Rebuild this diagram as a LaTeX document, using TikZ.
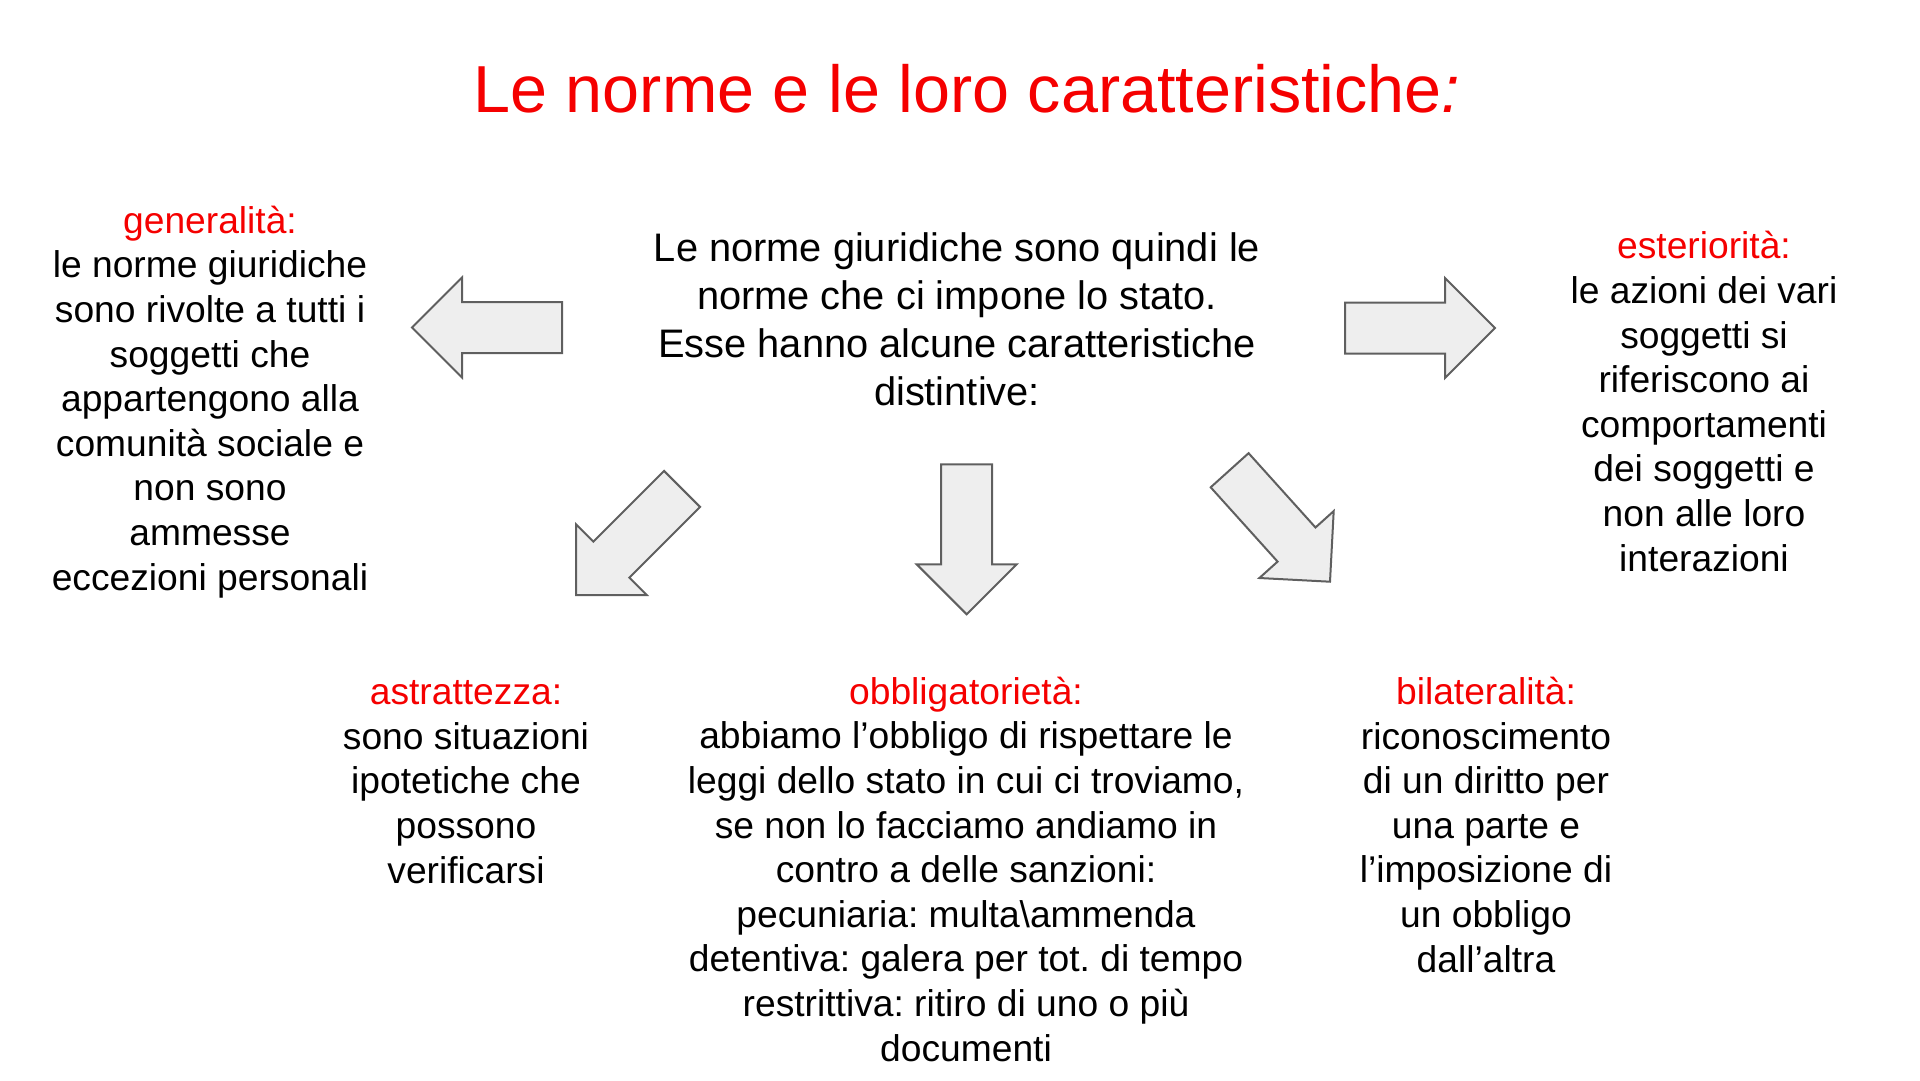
\documentclass[tikz,border=0pt]{standalone}
\usepackage{fontspec}
\setmainfont{Liberation Sans}
\usetikzlibrary{shapes.arrows}
\definecolor{normred}{RGB}{245,0,0}
\definecolor{arrowfill}{RGB}{238,238,238}
\definecolor{arrowline}{RGB}{95,95,95}
\frenchspacing

\begin{document}
\begin{tikzpicture}[x=1pt,y=-1pt,
    body/.style={align=center,inner sep=0pt,anchor=base,font=\fontsize{37.2}{44.6}\selectfont},
    bigarrow/.style={single arrow,draw=arrowline,fill=arrowfill,line width=2pt,
      minimum height=150pt,minimum width=98pt,single arrow head extend=24.5pt,
      inner xsep=0pt,inner ysep=24.5pt,outer sep=0pt,anchor=tip}]
  \useasboundingbox (0,0) rectangle (1920,1080);

  \node[inner sep=0pt,anchor=base,text=normred,font=\fontsize{66.5}{80}\selectfont] (T) at (967,112) {Le norme e le loro caratteristiche\textit{:}};
  \node[body,font=\fontsize{39.8}{48}\selectfont] (C) at (957,405) {Le norme giuridiche sono quindi le\\norme che ci impone lo stato.\\Esse hanno alcune caratteristiche\\distintive:};

  \node[body] (Gen) at (210,590) {\textcolor{normred}{generalità:}\\le norme giuridiche\\sono rivolte a tutti i\\soggetti che\\appartengono alla\\comunità sociale e\\non sono\\ammesse\\eccezioni personali};
  \node[body] (Est) at (1704,571) {\textcolor{normred}{esteriorità:}\\le azioni dei vari\\soggetti si\\riferiscono ai\\comportamenti\\dei soggetti e\\non alle loro\\interazioni};
  \node[body] (Ast) at (466,883) {\textcolor{normred}{astrattezza:}\\sono situazioni\\ipotetiche che\\possono\\verificarsi};
  \node[body] (Obb) at (966,1061) {\textcolor{normred}{obbligatorietà:}\\abbiamo l’obbligo di rispettare le\\leggi dello stato in cui ci troviamo,\\se non lo facciamo andiamo in\\contro a delle sanzioni:\\pecuniaria: multa\textbackslash ammenda\\detentiva: galera per tot. di tempo\\restrittiva: ritiro di uno o più\\documenti};
  \node[body] (Bil) at (1486,972) {\textcolor{normred}{bilateralità:}\\riconoscimento\\di un diritto per\\una parte e\\l’imposizione di\\un obbligo\\dall’altra};

  \node[bigarrow,rotate=180] (aGen) at (412,327.5) {};
  \node[bigarrow] (aEst) at (1495,328) {};
  \node[bigarrow,rotate=225] (aAst) at (576,595) {};
  \node[bigarrow,rotate=-90] (aObb) at (966.7,614.3) {};
  \node[bigarrow,rotate=-48] (aBil) at (1330,581.7) {};
\end{tikzpicture}
\end{document}
